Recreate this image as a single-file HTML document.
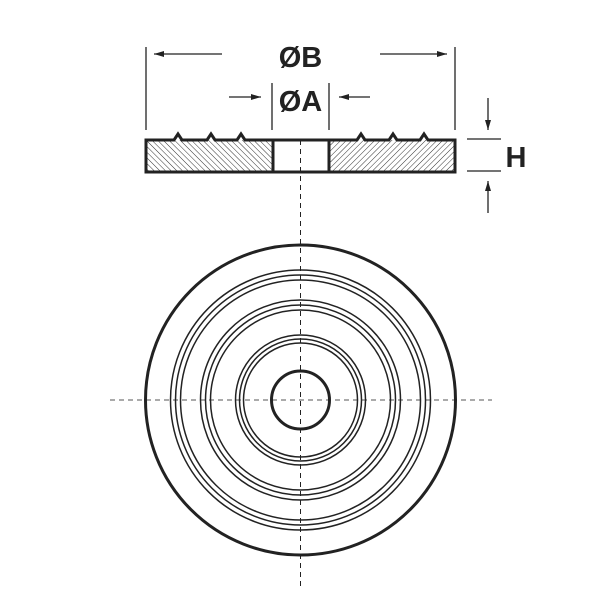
<!DOCTYPE html>
<html><head><style>body{margin:0;background:#fff}svg{display:block}</style></head><body>
<svg width="600" height="600" viewBox="0 0 600 600" xmlns="http://www.w3.org/2000/svg">
<defs>
<pattern id="hl" patternUnits="userSpaceOnUse" width="4" height="4" patternTransform="rotate(-45)"><line x1="0" y1="0" x2="0" y2="4" stroke="#333" stroke-width="1"/></pattern>
<pattern id="hr" patternUnits="userSpaceOnUse" width="4" height="4" patternTransform="rotate(45)"><line x1="0" y1="0" x2="0" y2="4" stroke="#333" stroke-width="1"/></pattern>
<marker id="ar" markerWidth="10" markerHeight="6" refX="10" refY="3" orient="auto" markerUnits="userSpaceOnUse"><path d="M0,0 L10,3 L0,6 Z" fill="#222"/></marker>
</defs>
<g stroke="#222" fill="none">
<rect x="147" y="140" width="125" height="32" fill="url(#hl)" stroke="none"/>
<rect x="329" y="140" width="125" height="32" fill="url(#hr)" stroke="none"/>
<path d="M146,140 H174 L178,134 L182,140 H207 L211,134 L215,140 H237 L241,134 L245,140 H357 L361,134 L365,140 H389 L393,134 L397,140 H420 L424,134 L428,140 H455 V172 H146 Z" stroke-width="3"/>
<line x1="273" y1="140" x2="273" y2="172" stroke-width="3"/>
<line x1="329" y1="140" x2="329" y2="172" stroke-width="3"/>
<line x1="146" y1="47" x2="146" y2="130" stroke-width="1.3"/>
<line x1="455" y1="47" x2="455" y2="130" stroke-width="1.3"/>
<line x1="222" y1="54" x2="154" y2="54" stroke-width="1.3" marker-end="url(#ar)"/>
<line x1="380" y1="54" x2="447" y2="54" stroke-width="1.3" marker-end="url(#ar)"/>
<line x1="272" y1="83" x2="272" y2="130" stroke-width="1.3"/>
<line x1="329" y1="83" x2="329" y2="130" stroke-width="1.3"/>
<line x1="229" y1="97" x2="261" y2="97" stroke-width="1.3" marker-end="url(#ar)"/>
<line x1="370" y1="97" x2="339" y2="97" stroke-width="1.3" marker-end="url(#ar)"/>
<line x1="467" y1="139" x2="501" y2="139" stroke-width="1.3"/>
<line x1="467" y1="171" x2="501" y2="171" stroke-width="1.3"/>
<line x1="488" y1="98" x2="488" y2="130" stroke-width="1.3" marker-end="url(#ar)"/>
<line x1="488" y1="213" x2="488" y2="181" stroke-width="1.3" marker-end="url(#ar)"/>
<line x1="300.5" y1="140" x2="300.5" y2="590" stroke-width="1" stroke-dasharray="5,4"/>
<line x1="110" y1="400" x2="492" y2="400" stroke-width="1" stroke-dasharray="5,4" stroke="#555"/>
<circle cx="300.5" cy="400" r="155" stroke-width="3"/>
<circle cx="300.5" cy="400" r="130" stroke-width="1.5"/>
<circle cx="300.5" cy="400" r="125" stroke-width="1.5"/>
<circle cx="300.5" cy="400" r="120" stroke-width="1.5"/>
<circle cx="300.5" cy="400" r="100" stroke-width="1.5"/>
<circle cx="300.5" cy="400" r="95" stroke-width="1.5"/>
<circle cx="300.5" cy="400" r="90" stroke-width="1.5"/>
<circle cx="300.5" cy="400" r="65" stroke-width="1.5"/>
<circle cx="300.5" cy="400" r="61" stroke-width="1.5"/>
<circle cx="300.5" cy="400" r="57" stroke-width="1.5"/>
<circle cx="300.5" cy="400" r="29" stroke-width="3"/>
</g>
<g font-family="Liberation Sans, sans-serif" font-weight="bold" font-size="29" fill="#222" text-anchor="middle">
<text x="300.5" y="67">ØB</text>
<text x="300.5" y="111">ØA</text>
<text x="516" y="167">H</text>
</g>
</svg>
</body></html>
